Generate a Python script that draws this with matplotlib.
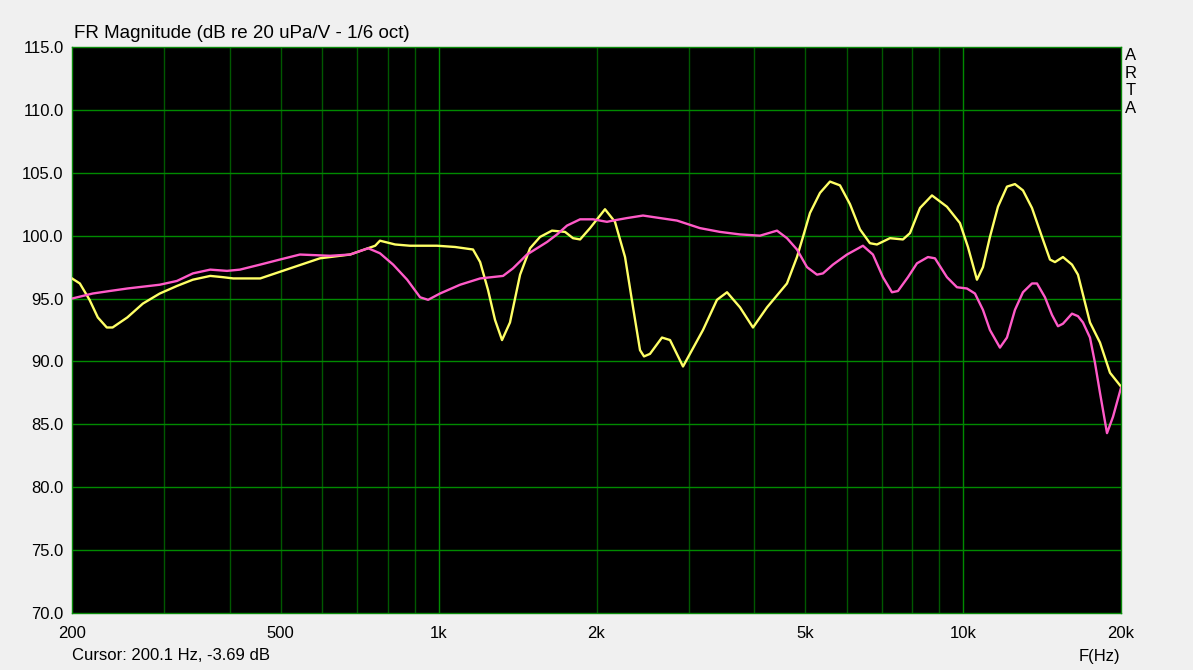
import numpy as np
import matplotlib
matplotlib.use("Agg")
import matplotlib.pyplot as plt
from matplotlib.ticker import FixedLocator, NullFormatter

plt.rcParams['font.family'] = ['Liberation Sans', 'DejaVu Sans']

# yellow trace
freq_y = [200, 207, 216, 224, 233, 239, 255, 273, 294, 317, 340, 367, 388, 406, 457,
          521, 594, 678, 757, 773, 826, 882, 993, 1075, 1163, 1200, 1242, 1281, 1321,
          1368, 1430, 1494, 1561, 1645, 1742, 1804, 1861, 1944, 2076, 2169, 2267, 2348,
          2421, 2464, 2529, 2666, 2762, 2924, 3192, 3394, 3547, 3755, 3975, 4228, 4615,
          4822, 4951, 5105, 5335, 5574, 5824, 6086, 6358, 6643, 6851, 7253, 7679, 7919,
          8275, 8722, 9315, 9862, 10215, 10626, 10910, 11250, 11653, 12123, 12556,
          13005, 13531, 14138, 14643, 14968, 15502, 16127, 16557, 17453, 18238, 19057,
          20000]
db_y = [96.6, 96.2, 94.9, 93.5, 92.7, 92.7, 93.5, 94.6, 95.4, 96.0, 96.5, 96.8, 96.7,
        96.6, 96.6, 97.4, 98.2, 98.5, 99.2, 99.6, 99.3, 99.2, 99.2, 99.1, 98.9, 97.9,
        95.7, 93.3, 91.7, 93.1, 96.9, 99.0, 99.9, 100.4, 100.3, 99.8, 99.7, 100.6,
        102.1, 101.1, 98.3, 94.3, 90.9, 90.4, 90.6, 91.9, 91.7, 89.6, 92.5, 94.9, 95.5,
        94.3, 92.7, 94.3, 96.2, 98.3, 99.9, 101.8, 103.4, 104.3, 104.0, 102.5, 100.5,
        99.4, 99.3, 99.8, 99.7, 100.2, 102.2, 103.2, 102.3, 101.0, 99.1, 96.5, 97.5,
        99.9, 102.3, 103.9, 104.1, 103.6, 102.2, 99.9, 98.1, 97.9, 98.3, 97.7, 96.9,
        93.1, 91.5, 89.1, 88.0]

# pink trace
freq_p = [200, 219, 236, 255, 294, 317, 340, 367, 395, 418, 457, 498, 544, 621, 678,
          734, 773, 819, 871, 922, 955, 1006, 1099, 1200, 1327, 1386, 1474, 1610, 1682,
          1757, 1861, 1970, 2094, 2150, 2287, 2453, 2643, 2848, 3150, 3439, 3755, 4100,
          4417, 4615, 4822, 5039, 5265, 5405, 5648, 6006, 6442, 6731, 7033, 7317, 7512,
          7850, 8166, 8570, 8838, 9315, 9733, 10170, 10534, 10910, 11250, 11755, 12123,
          12556, 13005, 13531, 13831, 14325, 14772, 15166, 15502, 16127, 16557, 16925,
          17453, 17838, 18238, 18808, 19310, 20000]
db_p = [95.0, 95.4, 95.6, 95.8, 96.1, 96.4, 97.0, 97.3, 97.2, 97.3, 97.7, 98.1, 98.5,
        98.4, 98.5, 99.0, 98.6, 97.7, 96.5, 95.1, 94.9, 95.4, 96.1, 96.6, 96.8, 97.4,
        98.5, 99.5, 100.1, 100.8, 101.3, 101.3, 101.1, 101.2, 101.4, 101.6, 101.4,
        101.2, 100.6, 100.3, 100.1, 100.0, 100.4, 99.8, 98.9, 97.5, 96.9, 97.0, 97.7,
        98.5, 99.2, 98.5, 96.7, 95.5, 95.6, 96.7, 97.8, 98.3, 98.2, 96.7, 95.9, 95.8,
        95.4, 94.1, 92.5, 91.1, 91.9, 94.1, 95.5, 96.2, 96.2, 95.1, 93.7, 92.8, 93.0,
        93.8, 93.6, 93.1, 91.9, 89.9, 87.5, 84.3, 85.6, 87.9]

x_ticks = [200, 500, 1000, 2000, 5000, 10000, 20000]
x_labels = ['200', '500', '1k', '2k', '5k', '10k', '20k']
y_ticks = np.arange(70, 116, 5)

fig = plt.figure(figsize=(11.93, 6.70), dpi=100, facecolor='#f0f0f0')
ax = fig.add_axes([72/1193, 57/670, 1049/1193, 566/670])
ax.set_facecolor('black')

ax.set_xscale('log')
ax.set_xlim(200, 20000)
ax.set_ylim(70, 115)

# grid: minor verticals darker, decades and horizontals brighter
minor_x = [f * m for f in (100, 1000, 10000) for m in range(2, 10)]
minor_x = [v for v in minor_x if 200 < v < 20000 and v not in (1000, 10000)]
for v in minor_x:
    ax.axvline(v, color='#005800', lw=1, zorder=1)
for v in (1000, 10000):
    ax.axvline(v, color='#008a00', lw=1, zorder=1)
for v in y_ticks[1:-1]:
    ax.axhline(v, color='#008a00', lw=1, zorder=1)

ax.plot(freq_y, db_y, color='#ffff66', lw=1.7, zorder=3)
ax.plot(freq_p, db_p, color='#ff5ac8', lw=1.7, zorder=3)

ax.xaxis.set_major_locator(FixedLocator(x_ticks))
ax.xaxis.set_minor_formatter(NullFormatter())
ax.set_xticks(x_ticks)
ax.set_xticklabels(x_labels)
ax.set_yticks(y_ticks)
ax.set_yticklabels(['%.1f' % v for v in y_ticks])
ax.tick_params(which='both', length=0, labelsize=12, colors='black', pad=9)
ax.tick_params(axis='y', pad=6)

for s in ax.spines.values():
    s.set_color('#0a8a0a')
    s.set_linewidth(1)

fig.text(74/1193, 1 - 33/670, 'FR Magnitude (dB re 20 uPa/V - 1/6 oct)',
         fontsize=13.5, ha='left', va='center')
fig.text(1131/1193, 1 - 82/670, 'A\nR\nT\nA', fontsize=12, ha='center', va='center',
         linespacing=1.2)
fig.text(72/1193, 1 - 656/670, 'Cursor: 200.1 Hz, -3.69 dB', fontsize=12,
         ha='left', va='center')
fig.text(1120/1193, 1 - 656/670, 'F(Hz)', fontsize=12, ha='right', va='center')

fig.savefig('out.png', dpi=100, facecolor=fig.get_facecolor())
